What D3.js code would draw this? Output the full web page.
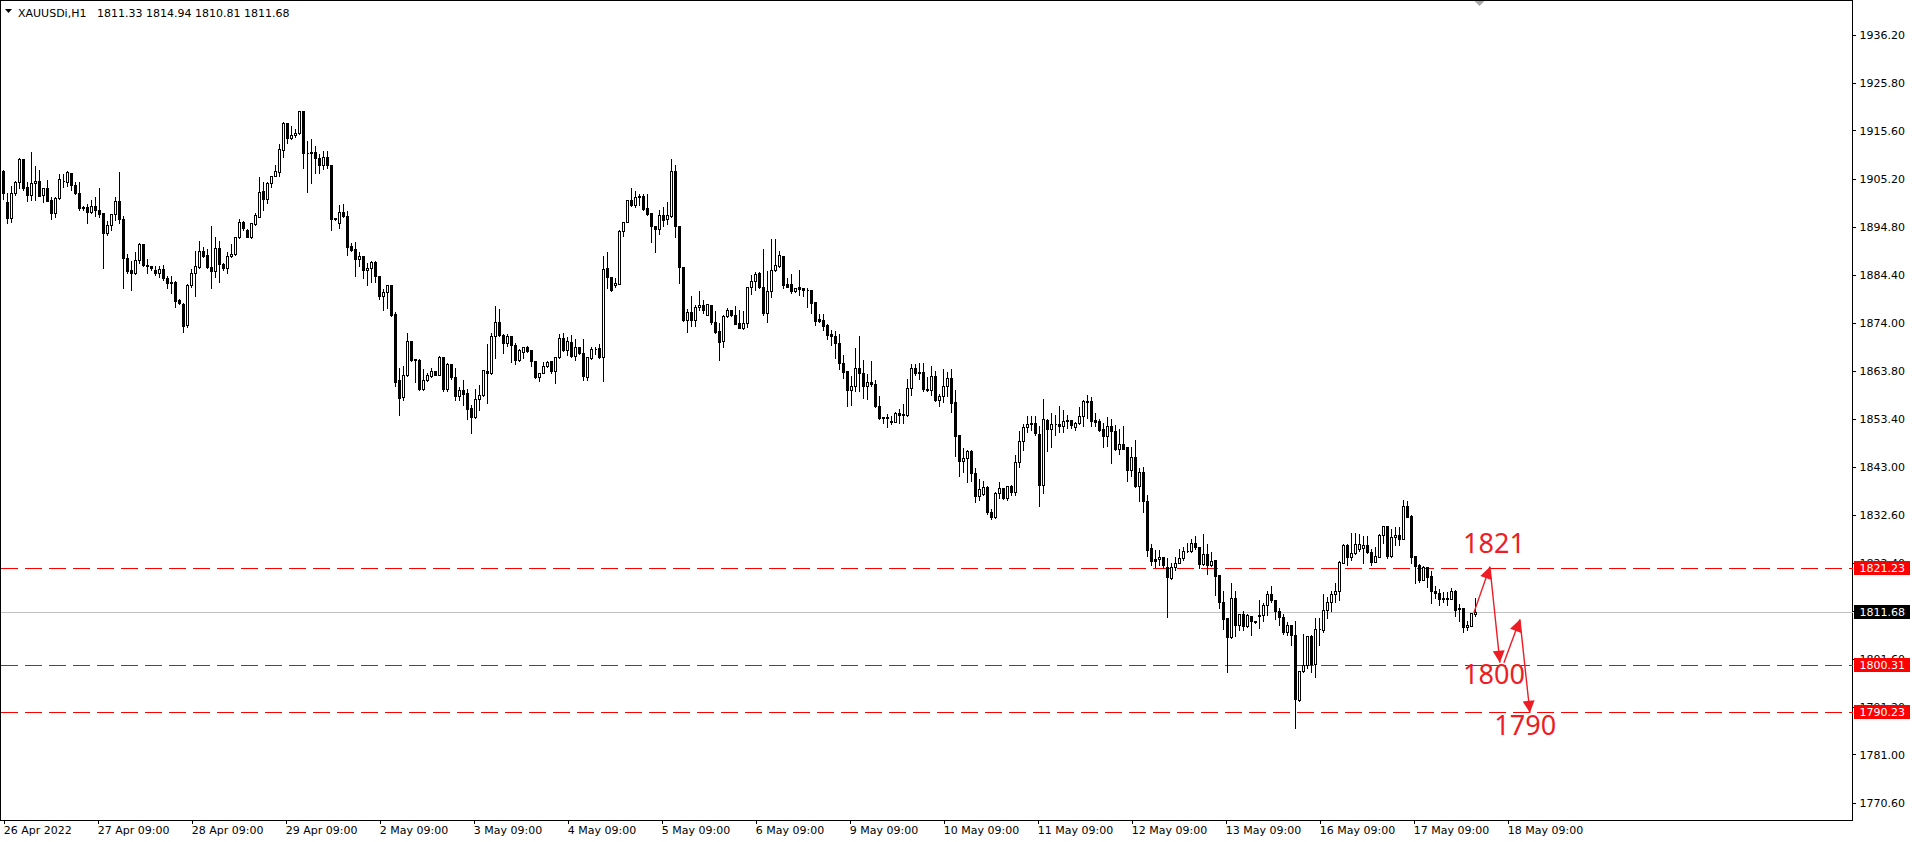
<!DOCTYPE html>
<html><head><meta charset="utf-8">
<script src="https://cdn.jsdelivr.net/npm/d3@7/dist/d3.min.js"></script>
<style>
html,body{margin:0;padding:0;background:#fff;overflow:hidden}
svg{display:block}
</style></head>
<body>
<svg id="c" width="1917" height="842"></svg>
<script>
// ---------- DATA (XAUUSDi, H1) ----------
const symbolTitle = "XAUUSDi,H1";
const lastOHLC = "1811.33 1814.94 1810.81 1811.68";

const open = [
1906.9,1900.1,1896.7,1902.2,1904.4,1909.4,1903.4,1901.7,1904.2,1904.7,
1901.7,1903.1,1900.6,1897.8,1901.0,1904.6,1904.4,1906.5,1903.9,1902.1,
1899.0,1899.2,1898.1,1899.3,1898.5,1897.8,1893.4,1895.2,1897.6,1900.3,
1896.5,1888.0,1885.5,1884.8,1887.7,1891.1,1886.6,1886.4,1885.5,1884.8,
1885.7,1883.7,1882.9,1882.9,1879.1,1878.2,1873.7,1882.3,1884.8,1886.1,
1889.6,1888.8,1886.1,1885.4,1890.2,1886.8,1885.9,1888.6,1889.0,1892.6,
1895.8,1894.2,1892.7,1895.5,1897.0,1902.6,1900.8,1904.2,1905.8,1906.7,
1911.4,1917.2,1913.9,1914.6,1915.0,1919.7,1910.8,1910.7,1911.0,1909.6,
1908.2,1909.8,1908.2,1896.5,1895.7,1898.1,1897.2,1890.6,1890.1,1887.8,
1888.5,1885.5,1885.9,1887.3,1884.2,1879.8,1880.7,1882.2,1876.0,1861.7,
1858.1,1862.9,1870.2,1866.3,1866.1,1859.9,1861.7,1862.7,1863.7,1862.9,
1866.7,1859.8,1865.3,1862.4,1858.4,1859.7,1858.9,1855.7,1853.8,1857.6,
1858.6,1863.7,1863.2,1871.2,1874.2,1871.4,1869.7,1871.2,1869.4,1866.0,
1867.9,1868.9,1868.3,1865.9,1862.5,1863.3,1864.7,1865.8,1863.8,1866.7,
1870.8,1868.3,1869.9,1867.0,1869.0,1867.6,1862.5,1866.5,1868.4,1868.6,
1866.7,1885.9,1884.0,1882.2,1882.5,1894.0,1895.8,1900.6,1899.5,1901.2,
1901.5,1898.8,1897.8,1895.0,1894.3,1897.3,1896.5,1897.2,1906.9,1895.0,
1886.1,1874.7,1876.4,1874.7,1877.5,1878.0,1875.8,1878.0,1874.2,1872.4,
1870.1,1875.6,1876.9,1875.8,1874.0,1873.1,1874.0,1881.8,1883.2,1884.8,
1881.8,1876.3,1881.0,1885.5,1886.4,1888.5,1882.5,1882.5,1880.9,1881.9,
1881.6,1881.2,1881.2,1878.5,1874.9,1874.7,1873.7,1871.7,1871.3,1869.7,
1865.4,1863.8,1859.7,1860.4,1864.3,1863.2,1860.4,1861.3,1860.9,1856.1,
1853.8,1853.7,1852.9,1852.8,1854.6,1854.3,1854.3,1860.0,1864.3,1863.4,
1863.4,1859.8,1859.6,1862.7,1857.5,1858.4,1860.5,1862.2,1857.0,1849.9,
1844.2,1844.9,1846.5,1841.7,1836.7,1837.1,1838.8,1833.4,1832.2,1837.4,
1838.5,1836.4,1838.9,1837.7,1844.0,1848.6,1851.6,1852.6,1852.5,1850.2,
1839.2,1853.2,1851.2,1852.2,1852.3,1851.8,1853.0,1853.2,1851.7,1852.5,
1854.0,1857.3,1857.3,1853.2,1853.0,1851.2,1849.8,1851.9,1850.8,1847.0,
1847.9,1847.3,1842.3,1845.1,1839.0,1842.0,1835.6,1825.5,1823.1,1823.1,
1823.7,1821.4,1819.0,1821.4,1822.3,1823.3,1824.8,1824.8,1826.6,1825.7,
1822.1,1824.3,1821.9,1822.9,1819.8,1814.0,1810.4,1806.3,1814.7,1809.0,
1811.3,1808.8,1810.9,1809.8,1810.8,1811.1,1813.3,1815.6,1814.4,1812.0,
1810.6,1807.5,1809.0,1806.8,1792.7,1799.1,1800.4,1806.5,1800.6,1808.1,
1807.8,1812.2,1813.8,1815.6,1816.3,1822.4,1826.2,1823.7,1824.4,1825.3,
1825.5,1826.2,1824.6,1822.6,1823.7,1828.4,1830.2,1823.9,1828.0,1828.4,
1827.5,1834.6,1832.5,1823.9,1821.9,1818.7,1821.4,1819.4,1816.2,1815.8,
1814.7,1814.7,1814.6,1816.3,1812.3,1812.6,1808.5,1808.8,1811.33];

const high = [
1907.2,1902.4,1903.9,1904.9,1909.8,1909.6,1904.6,1911.2,1908.2,1907.3,
1903.2,1905.1,1901.4,1901.4,1906.4,1906.4,1907.1,1906.7,1904.6,1904.6,
1899.6,1899.9,1900.8,1901.4,1903.4,1898.1,1896.3,1897.9,1901.4,1906.9,
1897.4,1889.1,1887.7,1889.5,1891.6,1891.3,1888.0,1886.6,1886.6,1886.6,
1886.8,1884.5,1884.5,1883.4,1879.4,1878.7,1882.8,1885.9,1889.8,1891.9,
1890.6,1890.2,1895.2,1892.9,1892.0,1887.3,1889.5,1891.4,1892.7,1896.8,
1896.2,1894.5,1895.7,1898.1,1905.8,1904.6,1904.6,1906.0,1908.3,1913.0,
1917.7,1917.5,1916.8,1916.1,1919.9,1919.9,1913.6,1914.0,1912.5,1910.8,
1911.5,1911.5,1908.4,1896.9,1899.8,1900.0,1898.5,1891.6,1891.8,1889.6,
1888.6,1887.3,1887.6,1887.6,1884.4,1881.6,1882.4,1882.5,1876.6,1864.5,
1865.1,1872.2,1870.4,1866.4,1866.5,1864.3,1863.4,1864.5,1863.8,1867.2,
1866.8,1865.6,1865.4,1864.6,1860.5,1862.0,1860.0,1856.6,1860.0,1861.0,
1864.1,1869.7,1872.2,1878.0,1877.3,1872.0,1871.9,1871.3,1869.9,1868.6,
1869.1,1869.4,1868.4,1866.1,1863.3,1865.8,1866.1,1866.1,1866.8,1872.0,
1872.1,1871.2,1871.7,1870.8,1869.1,1870.8,1866.8,1869.2,1869.2,1869.7,
1888.8,1889.6,1884.1,1883.9,1894.3,1896.0,1900.8,1903.4,1902.8,1902.2,
1902.2,1902.2,1898.1,1895.2,1898.6,1899.3,1900.4,1909.6,1908.4,1895.1,
1886.2,1877.3,1880.1,1878.2,1881.1,1879.2,1878.3,1878.1,1876.8,1874.2,
1876.1,1877.5,1877.1,1878.0,1877.0,1876.9,1882.1,1884.6,1885.2,1885.4,
1890.2,1885.5,1892.4,1892.4,1889.8,1888.6,1884.1,1884.9,1881.7,1885.7,
1881.9,1881.9,1881.3,1878.6,1876.2,1876.2,1874.1,1872.7,1872.6,1872.0,
1867.4,1863.9,1862.9,1869.0,1871.5,1866.3,1863.2,1866.0,1862.0,1858.6,
1854.0,1854.6,1854.3,1855.0,1855.7,1856.8,1862.2,1865.4,1865.4,1865.6,
1865.6,1862.7,1865.0,1864.0,1858.9,1864.3,1863.7,1864.3,1859.8,1850.0,
1847.3,1847.0,1847.0,1843.1,1840.6,1840.3,1839.2,1834.1,1837.9,1839.9,
1838.8,1839.0,1839.4,1845.8,1851.0,1852.6,1854.3,1854.3,1854.3,1852.1,
1857.9,1853.5,1854.9,1854.5,1856.4,1855.5,1854.5,1853.3,1853.0,1856.2,
1857.7,1858.8,1858.4,1854.9,1853.5,1852.8,1854.0,1853.5,1852.3,1851.4,
1852.1,1847.4,1847.6,1849.0,1843.1,1843.3,1837.2,1826.7,1825.3,1825.3,
1823.8,1823.6,1822.6,1823.9,1825.5,1825.9,1826.9,1827.7,1828.4,1826.0,
1828.7,1826.6,1824.8,1823.0,1819.9,1816.5,1810.5,1818.3,1816.5,1811.5,
1812.1,1811.5,1811.1,1809.9,1814.6,1813.8,1816.4,1817.6,1814.5,1812.9,
1811.6,1809.9,1809.1,1810.1,1799.2,1807.3,1806.6,1807.0,1810.6,1810.6,
1815.8,1815.1,1816.5,1818.1,1823.0,1826.7,1826.6,1829.1,1829.1,1828.7,
1828.4,1828.4,1825.5,1825.9,1828.7,1830.4,1830.3,1829.8,1830.2,1830.2,
1836.1,1835.9,1832.8,1824.0,1822.4,1821.9,1821.6,1820.8,1817.6,1816.9,
1816.2,1816.2,1817.1,1816.7,1813.7,1812.7,1810.1,1811.6,1814.94];

const low = [
1900.8,1895.6,1895.9,1901.7,1903.1,1902.8,1900.3,1900.6,1900.6,1901.4,
1900.1,1900.3,1896.5,1897.0,1900.8,1903.5,1903.6,1902.8,1901.9,1898.5,
1898.5,1895.7,1897.8,1897.2,1897.0,1885.9,1893.1,1894.2,1896.3,1895.7,
1881.6,1884.9,1881.2,1884.7,1887.1,1886.3,1884.8,1885.5,1884.5,1884.1,
1883.4,1881.6,1880.6,1877.5,1878.2,1872.1,1873.3,1881.9,1879.9,1885.9,
1888.4,1885.9,1881.7,1884.1,1883.0,1885.5,1884.8,1888.4,1888.8,1892.4,
1894.2,1892.6,1892.5,1895.2,1896.9,1898.5,1899.9,1903.4,1905.7,1905.8,
1909.8,1912.8,1913.7,1914.3,1914.9,1907.5,1902.4,1904.2,1906.4,1906.5,
1907.2,1907.5,1894.2,1896.2,1894.5,1896.9,1888.8,1889.7,1884.2,1886.4,
1883.7,1882.3,1883.0,1883.0,1879.3,1876.8,1877.3,1875.6,1860.4,1854.3,
1857.5,1862.7,1865.8,1861.4,1859.7,1859.7,1861.5,1862.5,1862.8,1862.8,
1859.5,1859.5,1862.0,1857.4,1857.4,1856.4,1853.3,1850.3,1853.5,1855.3,
1858.3,1856.8,1863.1,1866.5,1871.2,1867.6,1869.2,1865.6,1865.3,1865.9,
1866.6,1867.8,1864.8,1862.2,1861.5,1863.2,1864.6,1863.2,1861.2,1866.5,
1868.1,1867.2,1866.8,1866.1,1867.4,1861.7,1861.7,1866.3,1867.4,1866.6,
1861.5,1881.6,1880.9,1881.9,1882.4,1892.9,1895.8,1899.3,1899.1,1899.5,
1898.5,1897.4,1891.6,1889.3,1893.2,1895.0,1895.5,1897.0,1892.7,1882.7,
1874.6,1872.2,1873.5,1873.5,1876.8,1876.3,1875.7,1873.9,1872.0,1866.0,
1868.9,1875.3,1875.5,1873.8,1873.0,1872.8,1873.2,1880.4,1881.2,1881.6,
1875.8,1874.2,1879.6,1885.4,1886.2,1881.6,1881.8,1880.6,1880.8,1880.1,
1879.8,1877.6,1876.3,1873.7,1874.2,1872.6,1870.6,1869.4,1866.5,1864.1,
1862.2,1856.1,1856.4,1859.5,1859.5,1857.9,1857.6,1860.4,1856.0,1853.3,
1852.6,1851.6,1852.3,1852.7,1852.5,1852.6,1854.0,1858.6,1862.9,1862.0,
1859.5,1859.3,1858.6,1857.3,1856.1,1857.1,1858.4,1854.8,1845.3,1841.1,
1842.0,1839.7,1840.1,1835.4,1835.8,1837.0,1832.9,1831.8,1832.1,1836.3,
1836.1,1835.8,1837.0,1837.0,1843.1,1846.6,1850.5,1851.0,1849.9,1834.5,
1837.5,1846.4,1847.4,1849.9,1850.5,1850.5,1851.4,1851.4,1850.9,1852.3,
1851.8,1853.5,1851.9,1851.9,1850.7,1847.3,1847.6,1843.8,1846.6,1845.9,
1846.8,1839.9,1841.0,1838.7,1835.6,1833.2,1823.9,1821.8,1821.4,1821.9,
1821.2,1810.6,1818.8,1820.7,1822.2,1823.0,1824.6,1824.6,1825.4,1821.2,
1821.9,1820.0,1821.7,1815.5,1812.6,1808.1,1798.9,1806.2,1806.6,1807.9,
1807.8,1808.6,1806.8,1809.4,1808.3,1809.7,1811.1,1813.8,1810.2,1809.0,
1807.0,1806.8,1804.7,1786.7,1792.5,1798.9,1799.6,1798.7,1797.8,1804.7,
1807.5,1810.4,1811.9,1813.8,1814.4,1822.3,1821.9,1823.0,1824.3,1825.0,
1822.3,1824.5,1821.8,1822.5,1823.6,1826.6,1823.3,1823.7,1826.2,1826.2,
1827.4,1832.2,1822.3,1818.0,1818.3,1818.6,1817.1,1813.7,1814.7,1813.3,
1813.8,1813.3,1814.5,1810.8,1809.7,1807.5,1807.9,1808.7,1810.81];

const close = [
1902.1,1896.7,1902.2,1904.4,1909.4,1903.1,1901.7,1904.2,1904.7,1901.5,
1903.1,1900.5,1897.8,1901.0,1905.1,1904.7,1906.7,1903.9,1902.1,1898.8,
1898.8,1898.1,1899.3,1898.5,1897.5,1893.4,1895.2,1897.6,1900.3,1896.5,
1888.0,1885.4,1884.8,1887.7,1891.1,1886.5,1886.3,1885.9,1884.8,1885.7,
1883.7,1882.7,1882.7,1878.9,1878.3,1873.5,1882.3,1884.8,1886.3,1889.6,
1888.6,1886.1,1885.4,1890.2,1886.8,1885.9,1888.6,1889.0,1892.6,1895.8,
1894.5,1892.7,1895.6,1897.3,1902.3,1900.8,1904.2,1905.8,1906.9,1911.6,
1917.2,1913.9,1914.6,1915.0,1919.7,1910.7,1910.7,1911.0,1909.6,1908.2,
1909.8,1908.2,1896.5,1896.8,1898.1,1897.2,1890.4,1889.8,1887.8,1888.5,
1885.5,1886.0,1887.3,1884.3,1879.8,1880.8,1882.2,1875.8,1861.4,1857.9,
1862.9,1870.2,1866.1,1866.0,1859.9,1861.8,1862.9,1863.7,1862.9,1866.7,
1859.8,1865.3,1862.4,1858.4,1859.7,1858.8,1855.5,1853.8,1857.6,1858.6,
1864.0,1863.2,1871.3,1874.2,1871.4,1869.7,1871.3,1869.4,1866.0,1868.3,
1869.0,1868.1,1865.8,1862.4,1863.3,1864.8,1865.6,1863.8,1866.7,1870.8,
1868.3,1870.1,1867.0,1869.0,1867.6,1862.7,1866.7,1868.4,1868.5,1866.7,
1885.7,1884.0,1881.1,1882.7,1894.0,1895.8,1900.6,1899.5,1901.3,1901.5,
1898.7,1897.5,1895.1,1894.3,1897.3,1896.3,1897.3,1906.9,1894.9,1886.1,
1874.7,1876.4,1874.7,1877.6,1878.0,1876.9,1878.1,1874.2,1872.2,1869.9,
1875.6,1876.9,1875.7,1873.9,1873.1,1874.0,1881.8,1883.2,1884.6,1881.8,
1876.2,1881.0,1885.5,1886.6,1888.8,1882.2,1881.9,1880.9,1881.6,1881.4,
1881.1,1881.2,1878.4,1874.6,1874.5,1873.5,1871.5,1871.3,1869.7,1865.4,
1863.6,1859.7,1860.4,1864.3,1863.3,1860.4,1861.3,1860.9,1856.1,1853.6,
1853.6,1853.6,1852.8,1854.6,1854.3,1854.4,1860.0,1864.3,1863.2,1863.2,
1859.8,1859.7,1862.7,1857.5,1858.4,1860.5,1862.2,1856.9,1849.8,1844.2,
1844.9,1846.5,1841.7,1836.7,1838.2,1838.7,1833.4,1832.2,1837.4,1838.5,
1836.3,1838.9,1837.7,1844.0,1848.6,1851.6,1852.3,1852.2,1850.3,1839.2,
1853.3,1851.2,1852.3,1852.3,1851.8,1853.0,1853.2,1852.1,1852.5,1854.0,
1857.3,1857.1,1853.0,1852.8,1850.9,1849.8,1851.9,1850.7,1847.0,1847.9,
1846.9,1842.3,1845.1,1839.0,1842.0,1835.6,1825.2,1822.8,1822.8,1823.7,
1821.8,1819.3,1821.4,1822.4,1823.3,1824.8,1824.8,1826.6,1825.7,1822.1,
1824.3,1821.9,1822.8,1819.5,1813.8,1810.2,1806.3,1814.7,1809.0,1811.3,
1808.8,1811.1,1809.7,1809.5,1811.1,1813.3,1815.6,1814.4,1811.9,1810.6,
1807.5,1809.0,1806.8,1793.0,1799.1,1800.4,1806.5,1800.6,1808.0,1808.0,
1812.2,1813.8,1815.6,1816.3,1822.6,1826.2,1823.7,1824.4,1826.4,1826.4,
1826.2,1824.6,1822.6,1823.9,1828.4,1830.3,1823.9,1828.0,1828.4,1827.5,
1834.6,1832.3,1823.7,1821.7,1818.7,1821.4,1819.3,1816.2,1815.8,1814.5,
1814.5,1814.6,1816.3,1812.1,1812.6,1808.5,1809.0,1811.5,1811.68];

const yTickValues = [1936.20,1925.80,1915.60,1905.20,1894.80,1884.40,1874.00,1863.80,
  1853.40,1843.00,1832.60,1822.40,1812.00,1801.60,1791.20,1781.00,1770.60];
const xTickLabels = ["26 Apr 2022","27 Apr 09:00","28 Apr 09:00","29 Apr 09:00","2 May 09:00",
  "3 May 09:00","4 May 09:00","5 May 09:00","6 May 09:00","9 May 09:00","10 May 09:00",
  "11 May 09:00","12 May 09:00","13 May 09:00","16 May 09:00","17 May 09:00","18 May 09:00"];
const xTickBars = [0.2,23.7,47.2,70.7,94.2,117.7,141.2,164.7,188.2,211.7,235.2,258.7,282.2,305.7,329.2,352.7,376.2];

const levelValues = [1821.23, 1800.31, 1790.23];
const currentPrice = 1811.68;

// forecast arrows: [bar, price] start and end points
const arrowFrom = [[367.6,1811.6],[371.6,1821.5],[375.1,1800.8],[379.1,1810.1]];
const arrowTo   = [[371.6,1821.5],[374.1,1800.8],[379.1,1810.1],[381.6,1790.0]];
const noteTexts = ["1821","1800","1790"];
const noteBars  = [364.9, 364.9, 372.7];
const notePrices= [1824.5, 1796.1, 1785.3];

// ---------- CHART ----------
const W = 1917, H = 842;
const plotRight = 1852.5, plotBottom = 820.5;
const svg = d3.select("#c");
svg.append("rect").attr("width",W).attr("height",H).attr("fill","#fff");

const x = d3.scaleLinear().domain([0, open.length-1]).range([3.5, 3.5 + 4*(open.length-1)]);
const y = d3.scaleLinear().domain([1770.6, 1936.2]).range([802.7, 35]);
const py = v => Math.round(y(v)) + 0.5;

// frame
svg.append("rect").attr("x",0.5).attr("y",0.5).attr("width",plotRight-0.5).attr("height",plotBottom-0.5)
  .attr("fill","none").attr("stroke","#000").attr("stroke-width",1).attr("shape-rendering","crispEdges");

// current price line (grey)
svg.append("line").attr("x1",1).attr("x2",plotRight).attr("y1",py(currentPrice)).attr("y2",py(currentPrice))
  .attr("stroke","#c0c0c0").attr("stroke-width",1).attr("shape-rendering","crispEdges");

// dashed red level lines
svg.append("g").selectAll("line").data(levelValues).join("line")
  .attr("x1",1).attr("x2",plotRight).attr("y1",d=>py(d)).attr("y2",d=>py(d))
  .attr("stroke","#ff0000").attr("stroke-width",1).attr("stroke-dasharray","17,7")
  .attr("shape-rendering","crispEdges");

// candles
const bars = d3.range(open.length);
const g = svg.append("g").attr("shape-rendering","crispEdges");
g.selectAll("line.w").data(bars).join("line").attr("class","w")
  .attr("x1",i=>x(i)).attr("x2",i=>x(i))
  .attr("y1",i=>py(Math.max(high[i],open[i],close[i])))
  .attr("y2",i=>py(Math.min(low[i],open[i],close[i])) + 0.5)
  .attr("stroke","#000").attr("stroke-width",1);
g.selectAll("path.b").data(bars).join("path").attr("class","b")
  .attr("d",i=>{
    const t = py(Math.max(open[i],close[i])), b = py(Math.min(open[i],close[i]));
    const x0 = x(i)-1, x1 = x(i)+1;
    return `M${x0},${t}H${x1}V${b}H${x0}Z`;
  })
  .attr("fill",i=>close[i]>=open[i] ? "#fff" : "#000")
  .attr("stroke","#000").attr("stroke-width",1);

// chart-shift marker
svg.append("path")
  .attr("d",`M${x(369)-5},1L${x(369)+5},1L${x(369)},6Z`).attr("fill","#a8a8a8");

// forecast arrows
const red = "#ee1c24";
const defs = svg.append("defs");
defs.append("marker").attr("id","ah").attr("viewBox","0 0 10 10").attr("refX",10).attr("refY",5)
  .attr("markerWidth",14).attr("markerHeight",12).attr("markerUnits","userSpaceOnUse")
  .attr("orient","auto")
  .append("path").attr("d","M0,0L10,5L0,10Z").attr("fill",red);
svg.append("g").selectAll("line").data(d3.range(arrowFrom.length)).join("line")
  .attr("x1",k=>x(arrowFrom[k][0])).attr("y1",k=>y(arrowFrom[k][1]))
  .attr("x2",k=>x(arrowTo[k][0])).attr("y2",k=>y(arrowTo[k][1]))
  .attr("stroke",red).attr("stroke-width",1.4).attr("marker-end","url(#ah)");

svg.append("g").selectAll("text").data(d3.range(noteTexts.length)).join("text")
  .attr("x",k=>x(noteBars[k])).attr("y",k=>y(notePrices[k]))
  .attr("font-family","'Noto Sans', sans-serif").attr("font-size",27)
  .attr("fill",red).text(k=>noteTexts[k]);

// right axis
const yAxis = d3.axisRight(y).tickValues(yTickValues).tickFormat(d3.format(".2f")).tickSize(3).tickPadding(4);
const ya = svg.append("g").attr("transform",`translate(${plotRight},0)`).call(yAxis);
ya.select(".domain").remove();
ya.selectAll(".tick line").attr("stroke","#000").attr("shape-rendering","crispEdges");
ya.selectAll(".tick text").attr("font-family","'DejaVu Sans', sans-serif").attr("font-size",11).attr("fill","#000");

// bottom axis
const xAxis = d3.axisBottom(x).tickValues(xTickBars).tickFormat((d,k)=>xTickLabels[k]).tickSize(3).tickPadding(3);
const xa = svg.append("g").attr("transform",`translate(0,${plotBottom})`).call(xAxis);
xa.select(".domain").remove();
xa.selectAll(".tick line").attr("stroke","#000").attr("shape-rendering","crispEdges");
xa.selectAll(".tick text").attr("font-family","'DejaVu Sans', sans-serif").attr("font-size",11)
  .attr("fill","#000").attr("text-anchor","start").attr("dx",-1);

// price labels on the axis
const tags = levelValues.map(v=>({v, bg:"#ff0000"})).concat([{v:currentPrice, bg:"#000"}]);
const tg = svg.append("g");
tags.forEach(t=>{
  const cy = y(t.v);
  tg.append("rect").attr("x",plotRight+1.5).attr("y",Math.round(cy)-7).attr("width",56).attr("height",14)
    .attr("fill",t.bg).attr("shape-rendering","crispEdges");
  tg.append("text").attr("x",plotRight+7).attr("y",Math.round(cy)+4)
    .attr("font-family","'DejaVu Sans', sans-serif").attr("font-size",11).attr("fill","#fff")
    .text(d3.format(".2f")(t.v));
});

// header
svg.append("path").attr("d","M5,9L12,9L8.5,13Z").attr("fill","#000");
svg.append("text").attr("x",18).attr("y",17).attr("font-family","'DejaVu Sans', sans-serif")
  .attr("font-size",11).attr("fill","#000").text(symbolTitle);
svg.append("text").attr("x",97).attr("y",17).attr("font-family","'DejaVu Sans', sans-serif")
  .attr("font-size",11).attr("fill","#000").text(lastOHLC);
</script>
</body></html>
